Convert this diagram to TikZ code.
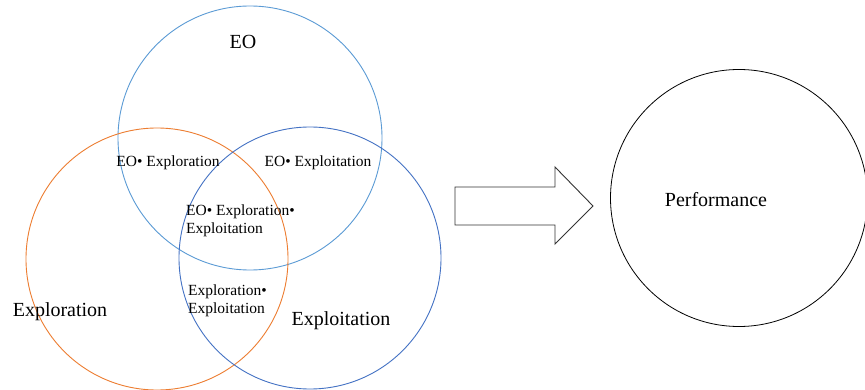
\documentclass[tikz,border=0pt]{standalone}
\usepackage{fontspec}
\setmainfont{Liberation Serif}
\definecolor{eoblue}{RGB}{91,155,213}
\definecolor{exporange}{RGB}{237,125,49}
\definecolor{expblue}{RGB}{68,114,196}
\tikzset{
  ring/.style={circle, draw, line width=0.9pt, inner sep=0pt},
  small/.style={font=\fontsize{15.5}{18}\selectfont, inner sep=0pt, align=left},
  big/.style={font=\fontsize{20}{24}\selectfont, inner sep=0pt},
}
\begin{document}
\begin{tikzpicture}[x=1pt,y=-1pt]
\useasboundingbox (0,0) rectangle (865,390);
\fill[white] (0,0) rectangle (865,390);
% circles
\node[ring, draw=eoblue, minimum size=264pt] (eo) at (250,138) {};
\node[ring, draw=exporange, minimum size=262pt] (explor) at (157,259) {};
\node[ring, draw=expblue, minimum size=262pt] (exploit) at (310,258) {};
\node[ring, draw=black, line width=0.8pt, minimum size=257pt] (perf) at (739,198) {};
% labels
\node[big] (teo) at (243,42) {EO};
\node[big] (texplor) at (60,312) {Exploration};
\node[big] (texploit) at (341,321) {Exploitation};
\node[big] (tperf) at (716,200) {Performance};
\node[small] (t1) at (168,163) {EO• Exploration};
\node[small] (t2) at (318,163) {EO• Exploitation};
\node[small, anchor=west] (t3) at (186,221) {EO• Exploration•\\Exploitation};
\node[small, anchor=west] (t4) at (188,301) {Exploration•\\Exploitation};
% block arrow
\draw[line width=0.9pt, black!80, line join=miter] (455,187) -- (555,187) -- (555,167) -- (593,206) -- (555,244) -- (555,225) -- (455,225) -- cycle;
\end{tikzpicture}
\end{document}
